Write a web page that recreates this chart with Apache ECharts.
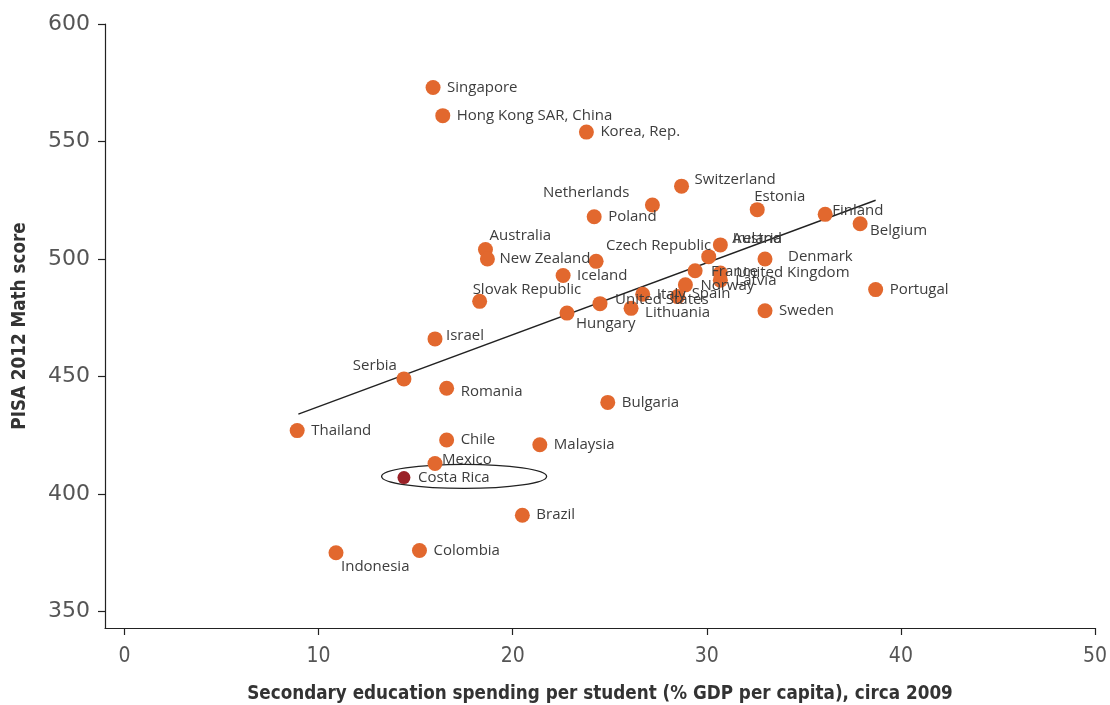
<!DOCTYPE html>
<html><head><meta charset="utf-8">
<script src="https://cdn.jsdelivr.net/npm/echarts@6/dist/echarts.min.js"></script>
<style>html,body{margin:0;padding:0;background:#fff}#c{width:1110px;height:705px}</style>
</head><body><div id="c"></div>
<script>
// ---- data ----
const countries = ['Singapore','Hong Kong SAR, China','Korea, Rep.','Switzerland','Netherlands','Estonia','Finland','Poland','Belgium','Australia','Austria','Ireland','Czech Republic','New Zealand','Denmark','France','United Kingdom','Latvia','Iceland','Norway','Portugal','Italy','Spain','Slovak Republic','United States','Lithuania','Hungary','Sweden','Israel','Serbia','Romania','Bulgaria','Thailand','Chile','Malaysia','Mexico','Costa Rica','Brazil','Colombia','Indonesia'];
const spending = [15.9,16.4,23.8,28.7,27.2,32.6,36.1,24.2,37.9,18.6,30.7,30.1,24.3,18.7,33.0,29.4,30.7,30.7,22.6,28.9,38.7,26.7,28.5,18.3,24.5,26.1,22.8,33.0,16.0,14.4,16.6,24.9,8.9,16.6,21.4,16.0,14.4,20.5,15.2,10.9];
const mathScore = [573,561,554,531,523,521,519,518,515,504,506,501,499,500,500,495,494,491,493,489,487,485,484,482,481,479,477,478,466,449,445,439,427,423,421,413,407,391,376,375];
const highlightCountry = 'Costa Rica';
const trendX = [8.96, 38.7];
const trendY = [434, 525];
const ellipseData = [17.5, 407.5, 4.25, 5.1]; // centre x, centre y, radius x, radius y (data units)
const xTicks = [0,10,20,30,40,50];
const yTicks = [350,400,450,500,550,600];
const xTitle = 'Secondary education spending per student (% GDP per capita), circa 2009';
const yTitle = 'PISA 2012 Math score';

// ---- label placement (pixels from point centre: dx, dy, align) ----
const labelPlace = {
  'Switzerland':[13,-6,'left'],
  'Netherlands':[-23,-12,'right'],
  'Estonia':[-3,-13,'left'],
  'Finland':[7,-4,'left'],
  'Belgium':[10,7,'left'],
  'Australia':[4,-14,'left'],
  'Czech Republic':[10,-16,'left'],
  'Austria':[12,-6,'left'],
  'Ireland':[24,-18,'left'],
  'New Zealand':[12,0,'left'],
  'Denmark':[23,-2,'left'],
  'France':[16,1,'left'],
  'United Kingdom':[16,0,'left'],
  'Latvia':[15,1,'left'],
  'Norway':[15,1,'left'],
  'Spain':[14,-3,'left'],
  'Slovak Republic':[-7,-12,'left'],
  'United States':[15,-4,'left'],
  'Lithuania':[14,4,'left'],
  'Hungary':[9,11,'left'],
  'Israel':[11,-3,'left'],
  'Serbia':[-7,-13,'right'],
  'Romania':[14,3,'left'],
  'Mexico':[7,-4,'left'],
  'Indonesia':[5,14,'left']
};

const ORANGE = '#E2682E';
const DARKRED = '#9A2127';
const LABEL_FONT = '"Open Sans", "DejaVu Sans", sans-serif';
const AXIS_FONT = '"DejaVu Sans Condensed", "Liberation Sans Narrow", sans-serif';

const scatterData = countries.map((name, i) => {
  const p = labelPlace[name] || [14, 0, 'left'];
  const hl = name === highlightCountry;
  const size = hl ? 13 : 15;
  return {
    name: name,
    value: [spending[i], mathScore[i]],
    symbolSize: size,
    itemStyle: { color: hl ? DARKRED : ORANGE, opacity: 1 },
    label: { position: [size / 2 + p[0], size / 2 + p[1]], align: p[2], verticalAlign: 'middle' }
  };
});

const chart = echarts.init(document.getElementById('c'), null, { renderer: 'canvas' });
chart.setOption({
  animation: false,
  backgroundColor: '#fff',
  grid: { left: 105, right: 15, top: 24, bottom: 77, outerBoundsMode: 'none', containLabel: false },
  xAxis: {
    type: 'value', min: -1, max: 50,
    name: xTitle, nameLocation: 'middle', nameGap: 57,
    nameTextStyle: { fontFamily: AXIS_FONT, fontWeight: 'bold', fontSize: 18.7, color: '#333' },
    axisLine: { show: true, onZero: false, lineStyle: { color: '#222', width: 1.2 } },
    axisTick: { show: true, customValues: xTicks, length: 7, lineStyle: { color: '#222', width: 1.2 } },
    axisLabel: { customValues: xTicks, margin: 18, fontSize: 21, color: '#555', fontFamily: AXIS_FONT },
    splitLine: { show: false }
  },
  yAxis: {
    type: 'value', min: 343, max: 600,
    name: yTitle, nameLocation: 'middle', nameGap: 75, nameRotate: 90,
    nameTextStyle: { fontFamily: AXIS_FONT, fontWeight: 'bold', fontSize: 18.7, color: '#333' },
    axisLine: { show: true, onZero: false, lineStyle: { color: '#222', width: 1.2 } },
    axisTick: { show: true, customValues: yTicks, length: 7, lineStyle: { color: '#222', width: 1.2 } },
    axisLabel: { customValues: yTicks, margin: 15, fontSize: 22, color: '#555', fontFamily: '"DejaVu Sans", sans-serif' },
    splitLine: { show: false }
  },
  series: [
    {
      type: 'line', silent: true, z: 1,
      data: trendX.map((x, i) => [x, trendY[i]]),
      symbol: 'none',
      lineStyle: { color: '#222', width: 1.4 }
    },
    {
      type: 'custom', silent: true, z: 1,
      data: [ellipseData],
      encode: { x: 0, y: 1 },
      renderItem: function (params, api) {
        const c = api.coord([api.value(0), api.value(1)]);
        const s = api.size([api.value(2), api.value(3)]);
        return { type: 'ellipse', shape: { cx: c[0], cy: c[1], rx: s[0], ry: s[1] }, style: { fill: 'none', stroke: '#222', lineWidth: 1.3 } };
      }
    },
    {
      type: 'scatter', z: 3,
      data: scatterData,
      label: { show: true, formatter: '{b}', fontSize: 15, color: '#3d3d3d', fontFamily: LABEL_FONT }
    }
  ]
});
</script>
</body></html>
